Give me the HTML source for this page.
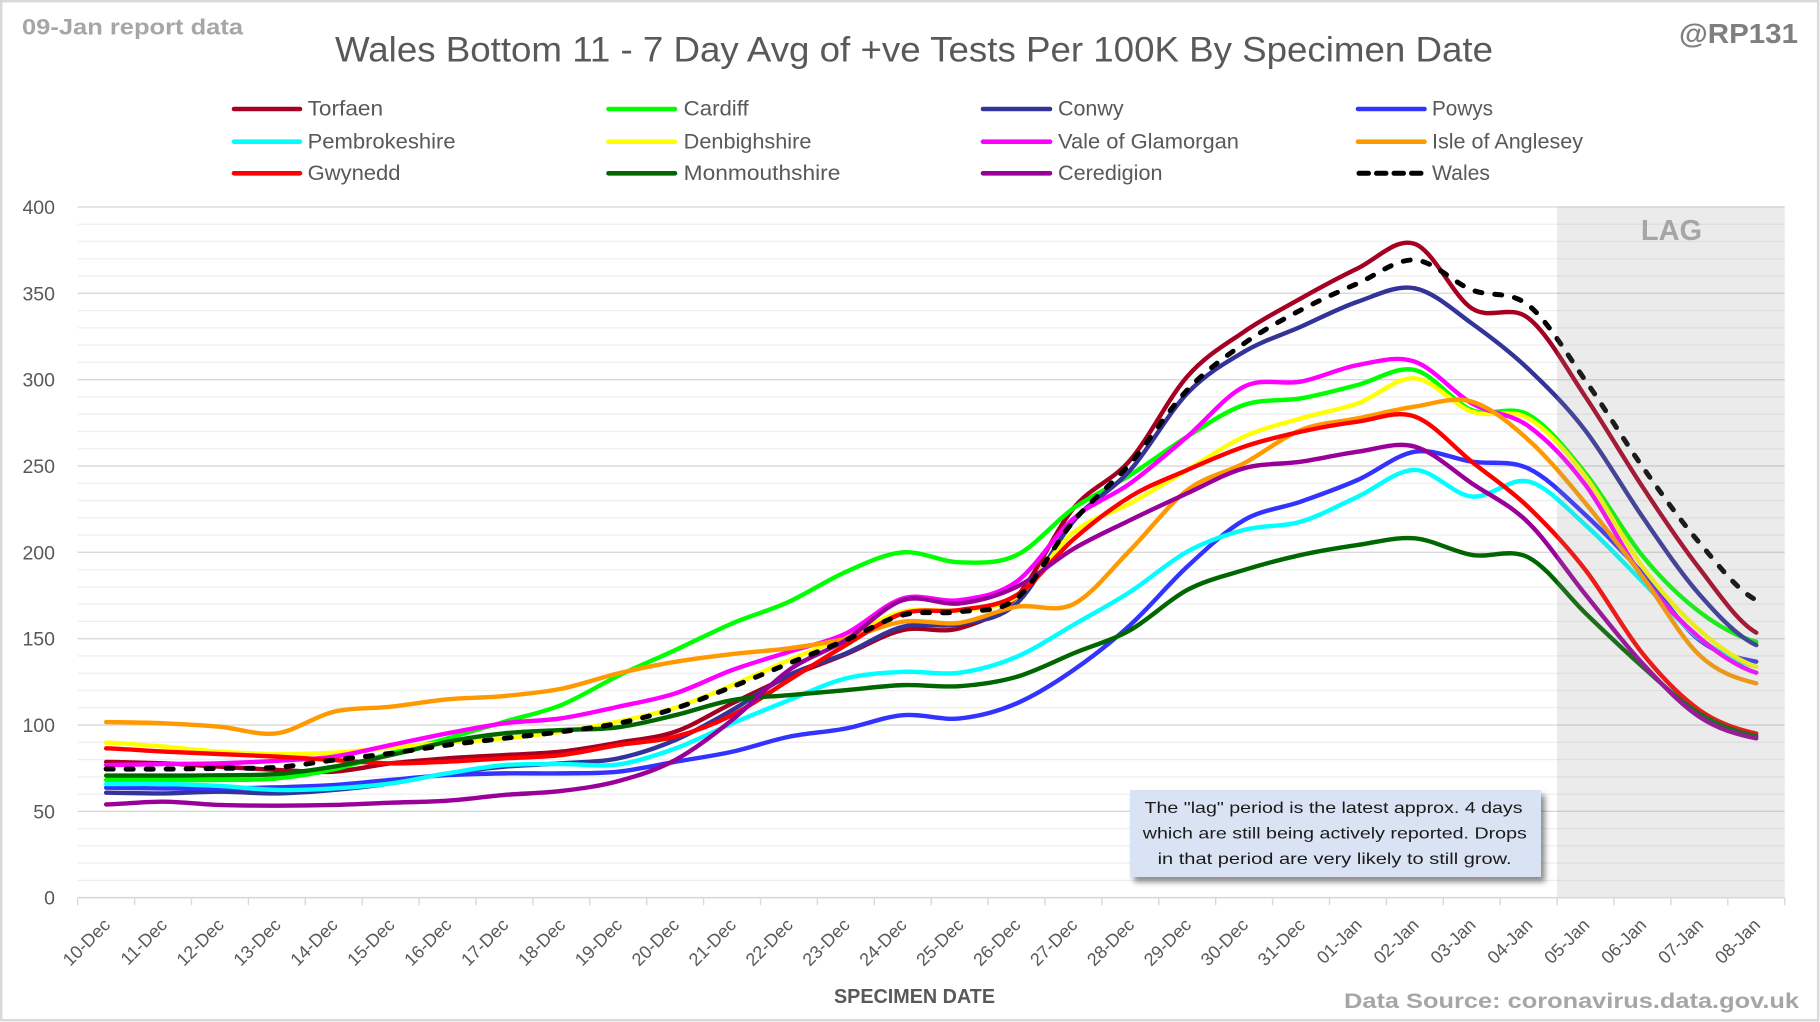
<!DOCTYPE html>
<html>
<head>
<meta charset="utf-8">
<style>
html,body{margin:0;padding:0;background:#fff;}
svg{display:block;}
text{font-family:"Liberation Sans",Arial,sans-serif;}
.s{fill:none;stroke-width:4.4;stroke-linecap:round;stroke-linejoin:round;vector-effect:non-scaling-stroke;}
</style>
</head>
<body>
<svg width="1820" height="1022" viewBox="0 0 1820 1022" xmlns="http://www.w3.org/2000/svg">
<defs>
<filter id="shadow" x="-10%" y="-20%" width="130%" height="150%">
<feDropShadow dx="4" dy="5" stdDeviation="3" flood-color="#000" flood-opacity="0.45"/>
</filter>
</defs>
<rect x="0" y="0" width="1820" height="1022" fill="#ffffff"/>
<rect x="1.2" y="1.2" width="1817" height="1019" fill="none" stroke="#d9d9d9" stroke-width="2.5"/>

<!-- minor gridlines -->
<path fill="none" stroke="#efefef" stroke-width="1.3" d="M77.7,880.43H1784.7M77.7,863.16H1784.7M77.7,845.90H1784.7M77.7,828.63H1784.7M77.7,794.09H1784.7M77.7,776.82H1784.7M77.7,759.56H1784.7M77.7,742.29H1784.7M77.7,707.75H1784.7M77.7,690.48H1784.7M77.7,673.22H1784.7M77.7,655.95H1784.7M77.7,621.41H1784.7M77.7,604.14H1784.7M77.7,586.88H1784.7M77.7,569.61H1784.7M77.7,535.07H1784.7M77.7,517.80H1784.7M77.7,500.54H1784.7M77.7,483.27H1784.7M77.7,448.73H1784.7M77.7,431.46H1784.7M77.7,414.20H1784.7M77.7,396.93H1784.7M77.7,362.39H1784.7M77.7,345.12H1784.7M77.7,327.86H1784.7M77.7,310.59H1784.7M77.7,276.05H1784.7M77.7,258.78H1784.7M77.7,241.52H1784.7M77.7,224.25H1784.7"/>
<!-- major gridlines -->
<path fill="none" stroke="#d9d9d9" stroke-width="1.4" d="M77.7,811.36H1784.7M77.7,725.02H1784.7M77.7,638.68H1784.7M77.7,552.34H1784.7M77.7,466.00H1784.7M77.7,379.66H1784.7M77.7,293.32H1784.7M77.7,206.98H1784.7"/>

<!-- data series (value space: x = day index, y = value) -->
<g transform="translate(106.15,897.7) scale(56.9,-1.7268)">
<path class="s" stroke="#a50021" d="M0,78.6C0.33,78.47 0.67,78.25 1,77.8S1.67,76.53 2,75.9S2.67,74.48 3,74S3.67,72.37 4,73S4.67,76.52 5,77.8S5.67,79.9 6,80.7S6.67,81.95 7,82.6S7.67,83.4 8,84.6S8.67,87.88 9,89.8S9.67,92.32 10,96.1S10.67,107.18 11,112.5S11.67,123.25 12,128S12.67,136.5 13,141S13.67,152.5 14,155S14.67,152.78 15,156S15.67,162.72 16,174.3S16.67,212.3 17,225.5S17.67,240.78 18,253.5S18.67,289.42 19,301.8S19.67,320.25 20,327.8S20.67,340.98 21,347.1S21.67,359.25 22,364.5S22.67,382.47 23,378.6S23.67,348.48 24,341.3S24.67,344.05 25,335.5S25.67,306.25 26,290S26.67,254.55 27,238S27.67,204.78 28,190.7S28.67,159.7 29,153.5"/>
<path class="s" stroke="#00ff00" d="M0,68.2C0.33,68.2 0.67,68.2 1,68.2S1.67,68.05 2,68.2S2.67,68.08 3,69.1S3.67,71.88 4,74.3S4.67,80.6 5,83.6S5.67,89.25 6,92.3S6.67,98.68 7,101.9S7.67,107.17 8,111.6S8.67,123.2 9,128.5S9.67,138.35 10,143.4S10.67,154.13 11,158.8S11.67,166.42 12,171.4S12.67,183.93 13,188.7S13.67,199.08 14,200S14.67,194.47 15,194.2S15.67,193.18 16,198.4S16.67,217.77 17,225.5S17.67,237.88 18,244.8S18.67,260.23 19,267S19.67,281.7 20,285.4S20.67,287.27 21,289.2S21.67,294.27 22,297S22.67,308.03 23,305.6S23.67,286.73 24,282.4S24.67,285.72 25,279.6S25.67,259.3 26,245.7S26.67,211.35 27,198S27.67,173.9 28,165.6S28.67,151.1 29,148.2"/>
<path class="s" stroke="#333399" d="M0,60.8C0.33,60.73 0.67,60.3 1,60.4S1.67,61.4 2,61.4S2.67,60.23 3,60.4S3.67,61.43 4,62.4S4.67,64.6 5,66.2S5.67,70.38 6,72S6.67,74.93 7,75.9S7.67,77 8,77.8S8.67,78.45 9,80.7S9.67,86.65 10,91.3S10.67,102.33 11,108.6S11.67,123.42 12,128.9S12.67,136.83 13,141.5S13.67,154.08 14,156.9S14.67,156.15 15,158.4S15.67,160.47 16,170.4S16.67,205.12 17,218S17.67,235.35 18,247.7S18.67,280.68 19,292.1S19.67,309.77 20,316.2S20.67,325.87 21,330.7S21.67,341.5 22,345.2S22.67,355 23,352.9S23.67,340.42 24,332.6S24.67,316.37 25,306S25.67,284.63 26,270.4S26.67,236.38 27,220.6S27.67,188.08 28,175.7S28.67,151.2 29,146.3"/>
<path class="s" stroke="#3333ff" d="M0,63.7C0.33,63.63 0.67,63.37 1,63.3S1.67,63.2 2,63.3S2.67,63.58 3,63.9S3.67,64.48 4,65.2S4.67,67.23 5,68.2S5.67,70.37 6,71S6.67,71.83 7,72S7.67,71.83 8,72S8.67,71.88 9,73S9.67,76.78 10,78.7S10.67,82.08 11,84.5S11.67,90.95 12,93.2S12.67,95.92 13,98S13.67,104.73 14,105.7S14.67,102.67 15,103.8S15.67,107.83 16,112.5S16.67,124.22 17,131.8S17.67,148.02 18,158S18.67,181.58 19,191.7S19.67,212.42 20,218.7S20.67,225.52 21,229.4S21.67,237.18 22,242S22.67,256.55 23,258.3S23.67,254.13 24,252.5S24.67,253.65 25,248.5S25.67,231.72 26,221.6S26.67,199.87 27,187.8S27.67,157.72 28,149.2S28.67,138.78 29,136.7"/>
<path class="s" stroke="#00ffff" d="M0,65.8C0.33,65.8 0.67,65.98 1,65.8S1.67,65.27 2,64.7S2.67,62.63 3,62.4S3.67,62.67 4,63.3S4.67,64.75 5,66.2S5.67,70.23 6,72S6.67,75.9 7,76.8S7.67,77.33 8,77.4S8.67,75.7 9,77.2S9.67,82.45 10,86.4S10.67,96.23 11,100.9S11.67,110.05 12,114.4S12.67,124.27 13,127S13.67,130.25 14,130.8S14.67,128.85 15,130.3S15.67,134.88 16,139.5S16.67,151.72 17,158S17.67,170.13 18,177.2S18.67,194.43 19,200.4S19.67,210.1 20,213S20.67,214.58 21,217.8S21.67,227.32 22,232.3S22.67,247.7 23,247.7S23.67,233.42 24,232.3S24.67,243.75 25,241S25.67,225.47 26,215.8S26.67,193.93 27,183S27.67,158.4 28,150.2S28.67,136.53 29,133.8"/>
<path class="s" stroke="#ffff00" d="M0,89.8C0.33,89.42 0.67,88.37 1,87.5S1.67,85.32 2,84.6S2.67,83.3 3,83.2S3.67,83.37 4,84S4.67,86.03 5,87S5.67,88.92 6,89.8S6.67,91.25 7,92.3S7.67,94.48 8,96.1S8.67,99.68 9,102S9.67,106.5 10,110S10.67,118.4 11,123S11.67,132.93 12,137.6S12.67,146.33 13,151S13.67,163 14,165.6S14.67,165.15 15,166.6S15.67,166.82 16,174.3S16.67,202.48 17,211.5S17.67,222.37 18,228.4S18.67,241.27 19,247.7S19.67,262.02 20,267S20.67,274.38 21,277.6S21.67,282.43 22,286.3S22.67,301.6 23,300.8S23.67,285.38 24,281.5S24.67,283.78 25,277.5S25.67,258.1 26,243.8S26.67,206.5 27,191.7S27.67,164.65 28,155S28.67,137.33 29,133.8"/>
<path class="s" stroke="#ff00ff" d="M0,76.8C0.33,76.9 0.67,77.23 1,77.4S1.67,77.48 2,77.8S2.67,78.65 3,79.3S3.67,80.18 4,81.7S4.67,86.15 5,88.4S5.67,93.1 6,95.2S6.67,99.55 7,101S7.67,102.3 8,103.9S8.67,108.2 9,110.6S9.67,114.77 10,118.3S10.67,127.78 11,131.8S11.67,138.87 12,142.4S12.67,147.85 13,153S13.67,170.08 14,173.3S14.67,170.68 15,172.3S15.67,175.13 16,183S16.67,210 17,219.5S17.67,232.08 18,240S18.67,257.67 19,267S19.67,290.68 20,296S20.67,296.82 21,298.9S21.67,306.58 22,308.5S22.67,314.1 23,310.4S23.67,292.53 24,286.3S24.67,280.88 25,273S25.67,253.52 26,239S26.67,200.63 27,185.9S27.67,159.87 28,150.6S28.67,133.68 29,130.3"/>
<path class="s" stroke="#ff9900" d="M0,101.7C0.33,101.58 0.67,101.45 1,101S1.67,99.97 2,99S2.67,93.75 3,95.2S3.67,105.13 4,107.7S4.67,109.4 5,110.6S5.67,113.87 6,114.9S6.67,115.78 7,116.8S7.67,118.82 8,121S8.67,127.3 9,129.9S9.67,134.73 10,136.6S10.67,139.8 11,141.1S11.67,142.92 12,144.4S12.67,147.43 13,150S13.67,158.27 14,159.8S14.67,157.75 15,159.2S15.67,166.7 16,168.5S16.67,164.52 17,170S17.67,190.4 18,201.4S18.67,227.63 19,236S19.67,245.78 20,251.6S20.67,266.57 21,270.9S21.67,275.35 22,277.6S22.67,282.78 23,284.4S23.67,290.53 24,287.3S24.67,274.82 25,265S25.67,241.58 26,228.4S26.67,200.55 27,185.9S27.67,150.8 28,140.5S28.67,126.83 29,124.1"/>
<path class="s" stroke="#ff0000" d="M0,86.5C0.33,86.18 0.67,85.15 1,84.6S1.67,83.68 2,83.2S2.67,82.28 3,81.7S3.67,80.35 4,79.7S4.67,77.95 5,77.8S5.67,78.32 6,78.8S6.67,80.07 7,80.7S7.67,81.32 8,82.6S8.67,86.63 9,88.4S9.67,90.32 10,93.2S10.67,100.23 11,105.7S11.67,119.23 12,126S12.67,139.87 13,146.3S13.67,161.22 14,164.6S14.67,164.83 15,166.6S15.67,168.38 16,175.2S16.67,197.98 17,207.5S17.67,225.6 18,232.3S18.67,242.88 19,247.7S19.67,257.5 20,261.2S20.67,267.48 21,269.9S21.67,274.25 22,275.7S22.67,282.47 23,278.6S23.67,261.27 24,252.5S24.67,236.47 25,226S25.67,203.78 26,189.7S26.67,155 27,141.5S27.67,116.43 28,108.7S28.67,97.37 29,95.1"/>
<path class="s" stroke="#006600" d="M0,70.7C0.33,70.7 0.67,70.67 1,70.7S1.67,70.75 2,70.9S2.67,70.77 3,71.6S3.67,74.07 4,75.9S4.67,80.2 5,82.6S5.67,88.2 6,90.3S6.67,94.07 7,95.2S7.67,96.52 8,97.1S8.67,97.27 9,98.7S9.67,103.08 10,105.7S10.67,112.47 11,114.4S11.67,116.33 12,117.3S12.67,119.23 13,120.2S13.67,122.72 14,123.1S14.67,121.7 15,122.5S15.67,124.73 16,127.9S16.67,136.98 17,141.5S17.67,148.88 18,155S18.67,172.4 19,178.2S19.67,186.42 20,189.8S20.67,196.08 21,198.5S21.67,202.7 22,204.3S22.67,209.07 23,208.1S23.67,200.35 24,198.5S24.67,202.63 25,197S25.67,175.23 26,164.7S26.67,143.47 27,133.8S27.67,113.4 28,106.7S28.67,95.78 29,93.6"/>
<path class="s" stroke="#990099" d="M0,54C0.33,54.27 0.67,55.65 1,55.6S1.67,54.08 2,53.7S2.67,53.3 3,53.3S3.67,53.42 4,53.7S4.67,54.58 5,55S5.67,55.45 6,56.2S6.67,58.57 7,59.5S7.67,60.47 8,61.8S8.67,64.52 9,67.5S9.67,73.8 10,79.7S10.67,94.22 11,102.9S11.67,124.08 12,131.8S12.67,142.45 13,149.2S13.67,168.77 14,172.3S14.67,169.12 15,170.4S15.67,174.73 16,180S16.67,195.55 17,202S17.67,213.33 18,218.7S18.67,229.2 19,234.2S19.67,245.65 20,248.7S20.67,250.9 21,252.5S21.67,256.85 22,258.3S22.67,264.25 23,261.2S23.67,247.37 24,240S24.67,227.75 25,217S25.67,189.05 26,175.5S26.67,147.48 27,135.7S27.67,112.03 28,104.8S28.67,94.38 29,92.3"/>
</g>
<!-- Wales (pixel coordinates) -->
<path fill="none" stroke="#000000" stroke-width="5" stroke-linecap="round" stroke-linejoin="round" stroke-dasharray="7 13" d="M106.15,769.05C125.12,769.05 144.08,769.17 163.05,769.05S200.98,768.65 219.95,768.36S257.88,768.71 276.85,767.33S314.78,762.40 333.75,760.07S371.68,755.84 390.65,753.34S428.58,747.55 447.55,745.05S485.48,740.53 504.45,738.32S542.38,734.26 561.35,731.75S599.28,727.18 618.25,723.29S656.18,714.52 675.15,708.44S713.08,694.37 732.05,686.86S769.98,671.18 788.95,663.37S826.88,648.12 845.85,640.06S883.78,619.74 902.75,615.02S940.68,614.50 959.65,611.74S997.58,613.52 1016.55,598.45S1054.48,543.79 1073.45,521.26S1111.38,485.11 1130.35,463.24S1168.28,410.00 1187.25,390.02S1225.18,356.75 1244.15,343.40S1282.08,319.91 1301.05,309.90S1338.98,291.63 1357.95,283.30S1395.88,258.91 1414.85,259.99S1452.78,282.30 1471.75,289.87S1509.68,290.26 1528.65,305.41S1566.58,353.81 1585.55,380.70S1623.48,439.70 1642.45,466.69S1680.38,520.45 1699.35,542.67S1737.28,590.45 1756.25,600.00"/>

<!-- LAG shading overlay -->
<rect x="1557.1" y="206.6" width="227.6" height="691.1" fill="#969696" fill-opacity="0.19"/>
<text x="1671.5" y="240" text-anchor="middle" font-size="29" font-weight="bold" fill="#a6a6a6">LAG</text>

<!-- axis line and ticks -->
<path fill="none" stroke="#d9d9d9" stroke-width="1.6" d="M77.7,897.7H1784.7"/>
<path fill="none" stroke="#d9d9d9" stroke-width="1.4" d="M77.7,897.7v7.5M134.6,897.7v7.5M191.5,897.7v7.5M248.4,897.7v7.5M305.3,897.7v7.5M362.2,897.7v7.5M419.1,897.7v7.5M476.0,897.7v7.5M532.9,897.7v7.5M589.8,897.7v7.5M646.7,897.7v7.5M703.6,897.7v7.5M760.5,897.7v7.5M817.4,897.7v7.5M874.3,897.7v7.5M931.2,897.7v7.5M988.1,897.7v7.5M1045.0,897.7v7.5M1101.9,897.7v7.5M1158.8,897.7v7.5M1215.7,897.7v7.5M1272.6,897.7v7.5M1329.5,897.7v7.5M1386.4,897.7v7.5M1443.3,897.7v7.5M1500.2,897.7v7.5M1557.1,897.7v7.5M1614.0,897.7v7.5M1670.9,897.7v7.5M1727.8,897.7v7.5M1784.7,897.7v7.5"/>

<!-- Title & corner texts -->
<text x="335" y="61.7" font-size="35" fill="#595959" textLength="1158" lengthAdjust="spacingAndGlyphs">Wales Bottom 11 - 7 Day Avg of +ve Tests Per 100K By Specimen Date</text>
<text x="22" y="34.3" font-size="22" font-weight="bold" fill="#a6a6a6" textLength="221" lengthAdjust="spacingAndGlyphs">09-Jan report data</text>
<text x="1679" y="43" font-size="28" font-weight="bold" fill="#7f7f7f" textLength="119" lengthAdjust="spacingAndGlyphs">@RP131</text>

<!-- Legend -->
<g stroke-width="4.6" stroke-linecap="round" fill="none">
<line x1="234" y1="109" x2="300" y2="109" stroke="#a50021"/>
<line x1="608.5" y1="109" x2="675" y2="109" stroke="#00ff00"/>
<line x1="983" y1="109" x2="1050" y2="109" stroke="#333399"/>
<line x1="1358" y1="109" x2="1424.5" y2="109" stroke="#3333ff"/>
<line x1="234" y1="141.7" x2="300" y2="141.7" stroke="#00ffff"/>
<line x1="608.5" y1="141.7" x2="675" y2="141.7" stroke="#ffff00"/>
<line x1="983" y1="141.7" x2="1050" y2="141.7" stroke="#ff00ff"/>
<line x1="1358" y1="141.7" x2="1424.5" y2="141.7" stroke="#ff9900"/>
<line x1="234" y1="173.3" x2="300" y2="173.3" stroke="#ff0000"/>
<line x1="608.5" y1="173.3" x2="675" y2="173.3" stroke="#006600"/>
<line x1="983" y1="173.3" x2="1050" y2="173.3" stroke="#990099"/>
<line x1="1359" y1="173.3" x2="1421" y2="173.3" stroke="#000000" stroke-width="5" stroke-dasharray="9.5 8"/>
</g>
<g font-size="21" fill="#595959">
<text x="307.6" y="115.7" textLength="75.5" lengthAdjust="spacingAndGlyphs">Torfaen</text>
<text x="683.7" y="115.7" textLength="65" lengthAdjust="spacingAndGlyphs">Cardiff</text>
<text x="1058" y="115.7" textLength="65.6" lengthAdjust="spacingAndGlyphs">Conwy</text>
<text x="1432" y="115.7" textLength="61" lengthAdjust="spacingAndGlyphs">Powys</text>
<text x="307.6" y="148.4" textLength="148" lengthAdjust="spacingAndGlyphs">Pembrokeshire</text>
<text x="683.7" y="148.4" textLength="127.7" lengthAdjust="spacingAndGlyphs">Denbighshire</text>
<text x="1058" y="148.4" textLength="181" lengthAdjust="spacingAndGlyphs">Vale of Glamorgan</text>
<text x="1432" y="148.4" textLength="151" lengthAdjust="spacingAndGlyphs">Isle of Anglesey</text>
<text x="307.6" y="180" textLength="92.9" lengthAdjust="spacingAndGlyphs">Gwynedd</text>
<text x="683.7" y="180" textLength="156.7" lengthAdjust="spacingAndGlyphs">Monmouthshire</text>
<text x="1058" y="180" textLength="104.5" lengthAdjust="spacingAndGlyphs">Ceredigion</text>
<text x="1432" y="180" textLength="58" lengthAdjust="spacingAndGlyphs">Wales</text>
</g>

<!-- Y axis labels -->
<g font-size="19.5" fill="#595959" text-anchor="end">
<text x="55" y="904.7">0</text>
<text x="55" y="818.4">50</text>
<text x="55" y="732.0">100</text>
<text x="55" y="645.7">150</text>
<text x="55" y="559.3">200</text>
<text x="55" y="473.0">250</text>
<text x="55" y="386.7">300</text>
<text x="55" y="300.3">350</text>
<text x="55" y="214.0">400</text>
</g>

<!-- X axis labels -->
<g font-size="18" fill="#595959" text-anchor="end">
<text transform="translate(111.2,926) rotate(-45)">10-Dec</text>
<text transform="translate(168.1,926) rotate(-45)">11-Dec</text>
<text transform="translate(225.0,926) rotate(-45)">12-Dec</text>
<text transform="translate(281.9,926) rotate(-45)">13-Dec</text>
<text transform="translate(338.8,926) rotate(-45)">14-Dec</text>
<text transform="translate(395.7,926) rotate(-45)">15-Dec</text>
<text transform="translate(452.6,926) rotate(-45)">16-Dec</text>
<text transform="translate(509.5,926) rotate(-45)">17-Dec</text>
<text transform="translate(566.4,926) rotate(-45)">18-Dec</text>
<text transform="translate(623.3,926) rotate(-45)">19-Dec</text>
<text transform="translate(680.2,926) rotate(-45)">20-Dec</text>
<text transform="translate(737.1,926) rotate(-45)">21-Dec</text>
<text transform="translate(794.0,926) rotate(-45)">22-Dec</text>
<text transform="translate(850.9,926) rotate(-45)">23-Dec</text>
<text transform="translate(907.8,926) rotate(-45)">24-Dec</text>
<text transform="translate(964.7,926) rotate(-45)">25-Dec</text>
<text transform="translate(1021.6,926) rotate(-45)">26-Dec</text>
<text transform="translate(1078.5,926) rotate(-45)">27-Dec</text>
<text transform="translate(1135.4,926) rotate(-45)">28-Dec</text>
<text transform="translate(1192.3,926) rotate(-45)">29-Dec</text>
<text transform="translate(1249.2,926) rotate(-45)">30-Dec</text>
<text transform="translate(1306.1,926) rotate(-45)">31-Dec</text>
<text transform="translate(1363.0,926) rotate(-45)">01-Jan</text>
<text transform="translate(1419.9,926) rotate(-45)">02-Jan</text>
<text transform="translate(1476.8,926) rotate(-45)">03-Jan</text>
<text transform="translate(1533.7,926) rotate(-45)">04-Jan</text>
<text transform="translate(1590.6,926) rotate(-45)">05-Jan</text>
<text transform="translate(1647.5,926) rotate(-45)">06-Jan</text>
<text transform="translate(1704.4,926) rotate(-45)">07-Jan</text>
<text transform="translate(1761.3,926) rotate(-45)">08-Jan</text>
</g>

<text x="914.5" y="1003" text-anchor="middle" font-size="20" font-weight="bold" fill="#595959" textLength="161" lengthAdjust="spacingAndGlyphs">SPECIMEN DATE</text>
<text x="1344" y="1008" font-size="21" font-weight="bold" fill="#a6a6a6" textLength="455" lengthAdjust="spacingAndGlyphs">Data Source: coronavirus.data.gov.uk</text>

<!-- Annotation box -->
<rect x="1130" y="790" width="411" height="87" fill="#dae3f3" filter="url(#shadow)"/>
<g font-size="16" fill="#1a1a1a" text-anchor="middle">
<text x="1333.5" y="813" textLength="378" lengthAdjust="spacingAndGlyphs">The "lag" period is the latest approx. 4 days</text>
<text x="1334.8" y="838.5" textLength="384" lengthAdjust="spacingAndGlyphs">which are still being actively reported.  Drops</text>
<text x="1334.6" y="864" textLength="354" lengthAdjust="spacingAndGlyphs">in that period are very likely to still grow.</text>
</g>
</svg>
</body>
</html>
